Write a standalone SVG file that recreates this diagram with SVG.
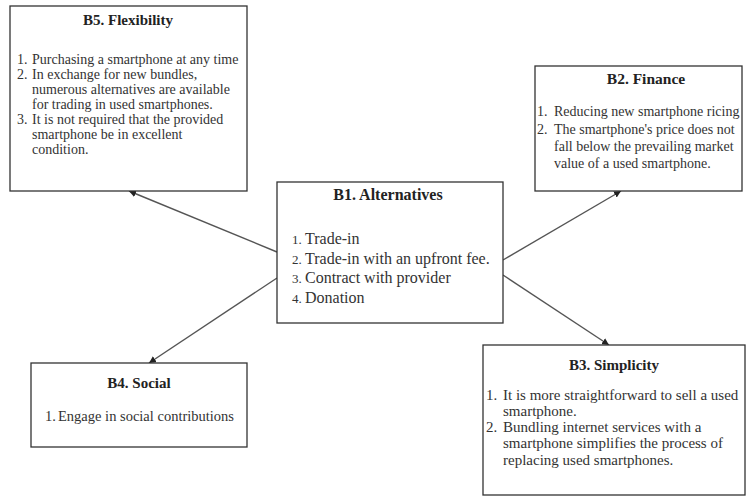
<svg xmlns="http://www.w3.org/2000/svg" width="751" height="498" viewBox="0 0 751 498">
<style>
.box{fill:#fff;stroke:#333;stroke-width:1.3}
.t{font-family:"Liberation Serif","Times New Roman",serif;font-size:15px;font-weight:bold;fill:#222;text-anchor:middle}
.i{font-family:"Liberation Serif","Times New Roman",serif;font-size:14px;fill:#333}
.n{font-family:"Liberation Serif","Times New Roman",serif;font-size:14px;fill:#333}
.con{stroke:#555;stroke-width:1.4;fill:none;marker-end:url(#ah)}
</style>
<defs>
<marker id="ah" viewBox="0 0 10 10" refX="10" refY="5" markerWidth="7" markerHeight="7" markerUnits="userSpaceOnUse" orient="auto">
<path d="M0,0 L10,5 L0,10 z" fill="#222"/>
</marker>
</defs>
<rect width="751" height="498" fill="#fff"/>
<g id="connectors">
<line class="con" x1="277" y1="252" x2="129" y2="191"/>
<line class="con" x1="277" y1="278" x2="149" y2="363"/>
<line class="con" x1="503" y1="260" x2="621" y2="191"/>
<line class="con" x1="503" y1="275" x2="609" y2="345"/>
</g>
<g id="B5">
<rect class="box" x="10" y="6" width="237" height="185"/>
<text class="t" x="128" y="25">B5. Flexibility</text>
<text class="n" x="17" y="64">1.</text><text class="i" x="32" y="64">Purchasing a smartphone at any time</text>
<text class="n" x="17" y="79">2.</text><text class="i" x="32" y="79">In exchange for new bundles,</text>
<text class="i" x="32" y="94">numerous alternatives are available</text>
<text class="i" x="32" y="109">for trading in used smartphones.</text>
<text class="n" x="17" y="124">3.</text><text class="i" x="32" y="124">It is not required that the provided</text>
<text class="i" x="32" y="139">smartphone be in excellent</text>
<text class="i" x="32" y="154">condition.</text>
</g>
<g id="B2">
<rect class="box" x="535" y="66" width="207" height="125"/>
<text class="t" x="646" y="84" style="font-size:15.5px">B2. Finance</text>
<text class="n" x="537" y="116">1.</text><text class="i" x="554" y="116">Reducing new smartphone ricing</text>
<text class="n" x="537" y="134">2.</text><text class="i" x="554" y="134">The smartphone's price does not</text>
<text class="i" x="554" y="151">fall below the prevailing market</text>
<text class="i" x="554" y="168">value of a used smartphone.</text>
</g>
<g id="B1">
<rect class="box" x="277" y="182" width="226" height="141"/>
<text class="t" x="388" y="200" style="font-size:16px">B1. Alternatives</text>
<text class="n" x="292" y="244" style="font-size:13px">1.</text><text class="i" x="305" y="244" style="font-size:16px">Trade-in</text>
<text class="n" x="292" y="264" style="font-size:13px">2.</text><text class="i" x="305" y="264" style="font-size:16px">Trade-in with an upfront fee.</text>
<text class="n" x="292" y="283" style="font-size:13px">3.</text><text class="i" x="305" y="283" style="font-size:16px">Contract with provider</text>
<text class="n" x="292" y="303" style="font-size:13px">4.</text><text class="i" x="305" y="303" style="font-size:16px">Donation</text>
</g>
<g id="B4">
<rect class="box" x="31" y="363" width="216" height="84"/>
<text class="t" x="139" y="388">B4. Social</text>
<text class="n" x="45" y="421" style="font-size:14.5px">1.</text><text class="i" x="58" y="421" style="font-size:14.5px">Engage in social contributions</text>
</g>
<g id="B3">
<rect class="box" x="483" y="345" width="262" height="150"/>
<text class="t" x="614" y="370">B3. Simplicity</text>
<text class="n" x="486" y="400" style="font-size:15px">1.</text><text class="i" x="503" y="400" style="font-size:15px">It is more straightforward to sell a used</text>
<text class="i" x="503" y="416" style="font-size:15px">smartphone.</text>
<text class="n" x="486" y="432" style="font-size:15px">2.</text><text class="i" x="503" y="432" style="font-size:15px">Bundling internet services with a</text>
<text class="i" x="503" y="448" style="font-size:15px">smartphone simplifies the process of</text>
<text class="i" x="503" y="465" style="font-size:15px">replacing used smartphones.</text>
</g>
</svg>
